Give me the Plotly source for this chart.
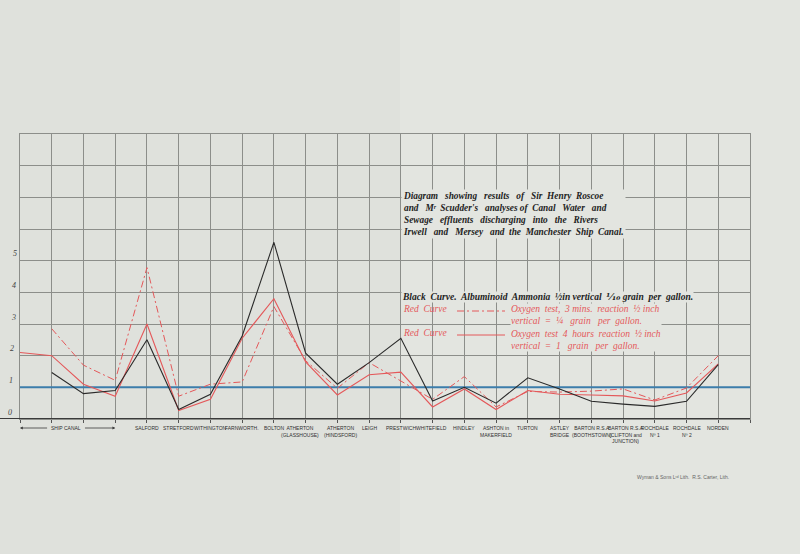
import plotly.graph_objects as go

# ---------------- data ----------------
stations = ["Ship Canal 1", "Ship Canal 2", "Ship Canal 3", "Ship Canal 4",
            "Salford", "Stretford", "Withington", "Farnworth", "Bolton",
            "Atherton (Glasshouse)", "Atherton (Hindsford)", "Leigh", "Prestwich",
            "Whitefield", "Hindley", "Ashton-in-Makerfield", "Turton", "Astley Bridge",
            "Barton RSA (Boothstown)", "Barton RSA (Clifton)", "Rochdale No 1",
            "Rochdale No 2", "Norden"]

station_labels = ["", "", "", "", "SALFORD", "STRETFORD", "WITHINGTON", "FARNWORTH.",
                  "BOLTON", "ATHERTON<br>(GLASSHOUSE)", "ATHERTON<br>(HINDSFORD)", "LEIGH",
                  "PRESTWICH", "WHITEFIELD", "HINDLEY", "ASHTON in<br>MAKERFIELD", "TURTON",
                  "ASTLEY<br>BRIDGE", "BARTON R.S.A<br>(BOOTHSTOWN)",
                  "BARTON R.S.A<br>(CLIFTON and<br>JUNCTION)", "ROCHDALE<br>Nº 1",
                  "ROCHDALE<br>Nº 2", "NORDEN"]

# Black curve: albuminoid ammonia
albuminoid_ammonia = [None, 1.47, 0.80, 0.90, 2.50, 0.30, 0.78, 2.62, 5.58, 2.08, 1.10,
                      1.78, 2.55, 0.57, 1.00, 0.50, 1.30, 0.95, 0.56, 0.47, 0.40, 0.56, 1.72]
# Red dash-dot curve: oxygen test, 3 mins reaction
oxygen_3min = [None, 2.85, 1.70, 1.22, 4.78, 0.72, 1.10, 1.17, 3.55, 1.84, 0.97,
               1.78, 1.20, 0.62, 1.34, 0.38, 0.87, 0.85, 0.88, 0.95, 0.60, 0.98, 2.00]
# Red solid curve: oxygen test, 4 hours reaction
oxygen_4hr = [2.10, 2.00, 1.10, 0.72, 3.00, 0.27, 0.62, 2.55, 3.80, 1.80, 0.76,
              1.40, 1.48, 0.38, 0.95, 0.30, 0.90, 0.78, 0.76, 0.73, 0.57, 0.82, 1.74]

reference_level = 1.0
y_tick_values = [0, 1, 2, 3, 4, 5]

title_text = ("Diagram   showing   results   of   Sir  Henry  Roscoe<br>"
              "and   Mʳ  Scudder's   analyses of  Canal   Water   and<br>"
              "Sewage   effluents   discharging   into   the   Rivers<br>"
              "Irwell   and   Mersey   and  the  Manchester  Ship  Canal.")
black_legend = "Black  Curve.  Albuminoid  Ammonia  ½in vertical  ⅒ grain  per  gallon."
red_legend_label = "Red  Curve"
red_legend_right = ("Oxygen  test,  3 mins.  reaction  ½ inch<br>"
                    "vertical  =  ¼   grain   per  gallon.<br>"
                    "Oxygen  test  4  hours  reaction  ½ inch<br>"
                    "vertical  =  1   grain   per  gallon.")

# ---------------- styling ----------------
PAPER = "#e3e5e0"
GRID = "#8c8e8a"
BLACK = "#2a2a2a"
RED = "#e4585a"
BLUE = "#3c7dab"
LABEL_FONT = "Liberation Sans, Arial, sans-serif"
SERIF = "Liberation Serif, DejaVu Serif, serif"
DASHDOT = "7px,3px,2px,3px"
# small horizontal nudges (pixels) of some station labels, as engraved
label_nudge = {9: -6, 10: 3, 13: -1, 18: 1, 19: 3}

idx = list(range(len(stations)))
NX = len(stations)  # right border one step past the last station

fig = go.Figure()
# blue reference line (drawn first so the curves cross over it)
fig.add_trace(go.Scatter(x=[0, NX], y=[reference_level, reference_level], mode="lines",
                         line=dict(color=BLUE, width=2), hoverinfo="skip"))
fig.add_trace(go.Scatter(x=idx, y=oxygen_3min, mode="lines", name="Oxygen 3 mins",
                         line=dict(color=RED, width=1, dash=DASHDOT)))
fig.add_trace(go.Scatter(x=idx, y=oxygen_4hr, mode="lines", name="Oxygen 4 hours",
                         line=dict(color=RED, width=1.1)))
fig.add_trace(go.Scatter(x=idx, y=albuminoid_ammonia, mode="lines", name="Albuminoid ammonia",
                         line=dict(color=BLACK, width=1.1)))

def px_to_x(px):
    return (px - 20) / 730 * NX

def py_to_y(py):
    return (419 - py) / 285 * 9

shapes = []
# slightly darker left half of the folded sheet
shapes.append(dict(type="rect", xref="paper", yref="paper", x0=-0.05, x1=(400 - 20) / 730,
                   y0=-0.6, y1=1.6, fillcolor="#dfe1dc", line=dict(width=0), layer="below"))
# heavy base line extending to the sheet edge
shapes.append(dict(type="line", xref="paper", yref="y", x0=-0.03, x1=1.0, y0=0, y1=0,
                   line=dict(color="#3a3a3a", width=2), layer="above"))

annotations = []
# station labels under the axis
for i, lab in enumerate(station_labels):
    if not lab:
        continue
    annotations.append(dict(x=i, y=0, xref="x", yref="paper", text=lab, showarrow=False,
                            xanchor="center", yanchor="top", yshift=-4,
                            xshift=label_nudge.get(i, 0),
                            font=dict(family=LABEL_FONT, size=5, color="#303030")))
# SHIP CANAL with arrows
annotations.append(dict(x=1.45, y=0, xref="x", yref="paper", text="SHIP CANAL", showarrow=False,
                        xanchor="center", yanchor="top", yshift=-4,
                        font=dict(family=LABEL_FONT, size=5, color="#303030")))
arrow_y = -9 / 285
annotations.append(dict(x=0.0, y=arrow_y, ax=0.9, ay=0, xref="x", yref="paper",
                        axref="x", ayref="pixel", text="", showarrow=True, arrowhead=2,
                        arrowsize=0.7, arrowwidth=0.8, arrowcolor="#3a3a3a"))
annotations.append(dict(x=3.0, y=arrow_y, ax=2.0, ay=0, xref="x", yref="paper",
                        axref="x", ayref="pixel", text="", showarrow=True, arrowhead=2,
                        arrowsize=0.7, arrowwidth=0.8, arrowcolor="#3a3a3a"))
# y tick labels
for v in y_tick_values:
    annotations.append(dict(x=0, y=v, xref="paper", yref="y", text=f"<i>{v}</i>",
                            showarrow=False, xanchor="center", yanchor="middle",
                            xshift=-10 + v, yshift=7,
                            font=dict(family=SERIF, size=8, color="#444")))

# title block
annotations.append(dict(x=px_to_x(401), y=py_to_y(214), xref="x", yref="y",
                        text=f"<b><i>{title_text}</i></b>", showarrow=False, align="left",
                        xanchor="left", yanchor="middle", bgcolor=PAPER, borderpad=1,
                        font=dict(family=SERIF, size=9.3, color="#222")))
# legend block
annotations.append(dict(x=px_to_x(401), y=py_to_y(297), xref="x", yref="y",
                        text=f"<b><i>{black_legend}</i></b>", showarrow=False, align="left",
                        xanchor="left", yanchor="middle", bgcolor=PAPER, borderpad=0,
                        font=dict(family=SERIF, size=9.5, color="#222")))
for py in (309, 333):
    annotations.append(dict(x=px_to_x(401), y=py_to_y(py), xref="x", yref="y",
                            text=f"<i>{red_legend_label}</i>", showarrow=False, align="left",
                            xanchor="left", yanchor="middle",
                            font=dict(family=SERIF, size=9.5, color=RED)))
annotations.append(dict(x=px_to_x(510), y=py_to_y(327), xref="x", yref="y",
                        text=f"<i>{red_legend_right}</i>", showarrow=False, align="left",
                        xanchor="left", yanchor="middle", bgcolor=PAPER, borderpad=0,
                        font=dict(family=SERIF, size=9.5, color=RED)))
# legend line samples
shapes.append(dict(type="line", xref="x", yref="y", x0=px_to_x(457), x1=px_to_x(505),
                   y0=py_to_y(311), y1=py_to_y(311), layer="above",
                   line=dict(color=RED, width=1, dash=DASHDOT)))
shapes.append(dict(type="line", xref="x", yref="y", x0=px_to_x(457), x1=px_to_x(505),
                   y0=py_to_y(335), y1=py_to_y(335), layer="above",
                   line=dict(color=RED, width=1)))

# printer's credit
annotations.append(dict(x=(683 - 20) / 730, y=(419 - 477) / 285, xref="paper", yref="paper",
                        text="Wyman & Sons Lᵗᵈ Lith.  R.S. Carter, Lith.", showarrow=False,
                        xanchor="center", yanchor="middle",
                        font=dict(family=LABEL_FONT, size=5, color="#666")))

fig.update_layout(
    width=800, height=554,
    margin=dict(l=20, r=50, t=134, b=135),
    paper_bgcolor=PAPER, plot_bgcolor="rgba(0,0,0,0)",
    showlegend=False,
    shapes=shapes, annotations=annotations,
)
fig.update_xaxes(range=[0, NX], dtick=1, tick0=0, showgrid=True, gridcolor=GRID, gridwidth=1,
                 showticklabels=False, zeroline=False, showline=True, linecolor=GRID,
                 mirror=True, ticks="outside", ticklen=3, tickcolor="#555")
fig.update_yaxes(range=[0, 9], dtick=1, tick0=0, showgrid=True, gridcolor=GRID, gridwidth=1,
                 showticklabels=False, zeroline=False, showline=True, linecolor=GRID,
                 mirror=True)

fig.write_html("out.html", config={"displayModeBar": False},
               post_script="document.body.style.margin='0px';"
                           "document.body.style.overflow='hidden';"
                           f"document.body.style.backgroundColor='{PAPER}';")
